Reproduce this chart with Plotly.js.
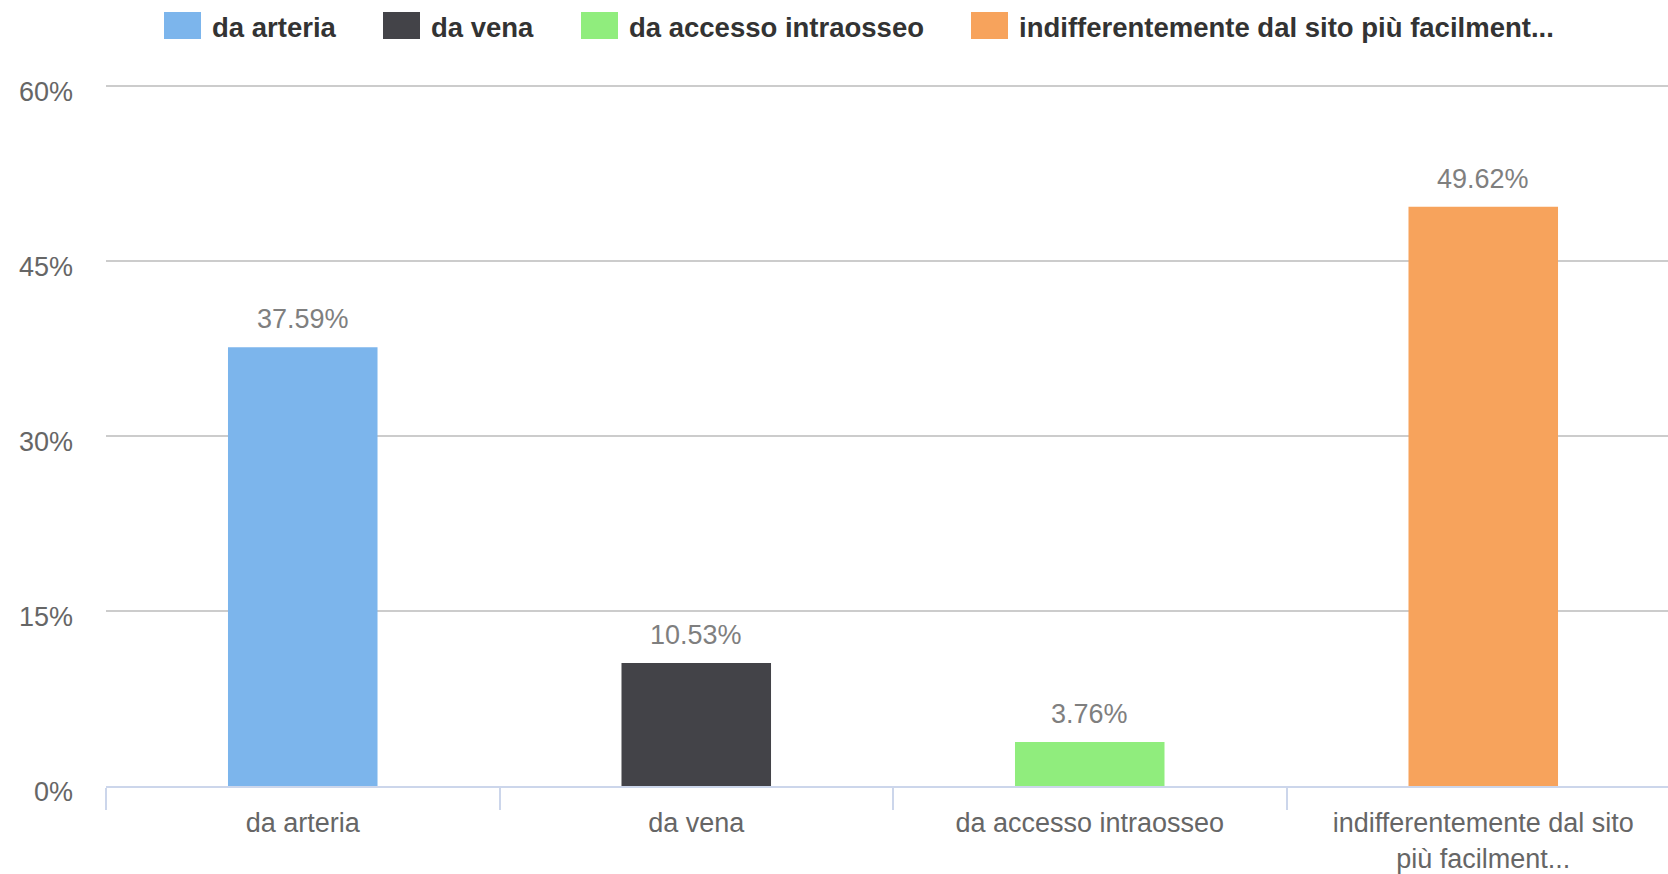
<!DOCTYPE html>
<html>
<head>
<meta charset="utf-8">
<script src="https://cdn.plot.ly/plotly-3.0.1.min.js"></script>
<style>
  html, body { margin: 0; padding: 0; background: #ffffff; overflow: hidden; }
  #chart { width: 1680px; height: 874px; }
</style>
</head>
<body>
<div id="chart"></div>
<script>
// ---- data ----
const categories = ['da arteria', 'da vena', 'da accesso intraosseo', 'indifferentemente dal sito più facilment...'];
const tickLabels = ['da arteria', 'da vena', 'da accesso intraosseo', 'indifferentemente dal sito<br>più facilment...'];
const values = [37.59, 10.53, 3.76, 49.62];
const valueLabels = ['37.59%', '10.53%', '3.76%', '49.62%'];
const legendNames = ['da arteria', 'da vena', 'da accesso intraosseo', 'indifferentemente dal sito più facilment...'];
const yTickVals = [0, 15, 30, 45, 60];
const yTickText = ['0%', '15%', '30%', '45%', '60%'];

// ---- style ----
const colors = ['#7cb5ec', '#434348', '#90ed7d', '#f7a35c'];
const FONT = 'Liberation Sans, Arial, Helvetica, sans-serif';
const W = 1680, H = 874;
const M = {l: 106, r: 0, t: 81, b: 88};
const plotW = W - M.l - M.r, plotH = H - M.t - M.b;
const px2x = p => (p - M.l) / plotW;
const py2y = p => (H - M.b - p) / plotH;

// legend positions (pixel layout of the custom legend)
const legendSquareX = [164, 383, 581, 971];
const legendSquareW = 37, legendTop = 12, legendBottom = 39;

const shapes = [];
const annotations = [];

legendNames.forEach((name, i) => {
  shapes.push({
    type: 'rect', xref: 'paper', yref: 'paper',
    x0: px2x(legendSquareX[i]), x1: px2x(legendSquareX[i] + legendSquareW),
    y0: py2y(legendBottom), y1: py2y(legendTop),
    fillcolor: colors[i], line: {width: 0}, layer: 'above'
  });
  annotations.push({
    xref: 'paper', yref: 'paper',
    x: px2x(legendSquareX[i] + legendSquareW + 9), y: py2y((legendTop + legendBottom) / 2 + 2),
    xanchor: 'left', yanchor: 'middle', showarrow: false,
    text: '<b>' + name + '</b>',
    font: {family: FONT, size: 27.5, color: '#333333'}
  });
});

categories.forEach((c, i) => {
  annotations.push({
    xref: 'x', yref: 'y', x: c, y: values[i],
    xanchor: 'center', yanchor: 'bottom', yshift: 11, showarrow: false,
    text: valueLabels[i],
    font: {family: FONT, size: 27, color: '#7f7f7f'}
  });
});

const trace = {
  type: 'bar',
  x: categories,
  y: values,
  marker: {color: colors, line: {width: 0}},
  hoverinfo: 'none',
  showlegend: false
};

const layout = {
  width: W, height: H,
  margin: M,
  paper_bgcolor: '#ffffff', plot_bgcolor: '#ffffff',
  bargap: 0.62,
  showlegend: false,
  font: {family: FONT, color: '#666666'},
  xaxis: {
    type: 'category',
    tickvals: categories, ticktext: tickLabels,
    tickson: 'boundaries', ticks: 'outside', ticklen: 22, tickwidth: 2, tickcolor: '#ccd6eb',
    showline: true, linecolor: '#ccd6eb', linewidth: 2,
    showgrid: false, zeroline: false,
    tickfont: {family: FONT, size: 27, color: '#666666'},
    ticklabelstandoff: 12,
    fixedrange: true
  },
  yaxis: {
    range: [0, 60.4],
    tickvals: yTickVals, ticktext: yTickText,
    showgrid: true, gridcolor: '#cccccc', gridwidth: 2,
    zeroline: false, showline: false, ticks: '',
    tickfont: {family: FONT, size: 27, color: '#666666'},
    ticklabelstandoff: 32,
    ticklabelshift: 6,
    fixedrange: true
  },
  shapes: shapes,
  annotations: annotations
};

Plotly.newPlot('chart', [trace], layout, {displayModeBar: false, responsive: false, staticPlot: true});
</script>
</body>
</html>
